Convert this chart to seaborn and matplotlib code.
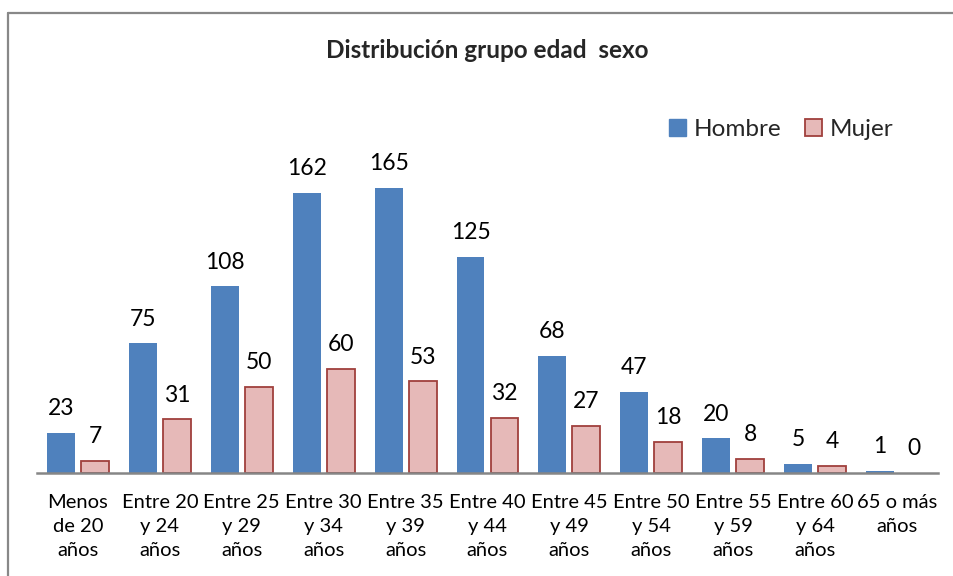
import matplotlib
matplotlib.use("Agg")
import matplotlib.pyplot as plt
import seaborn as sns
import pandas as pd
from matplotlib.lines import Line2D
from matplotlib.patches import Patch

grupos = ["Menos\nde 20\naños", "Entre 20\ny 24\naños", "Entre 25\ny 29\naños",
          "Entre 30\ny 34\naños", "Entre 35\ny 39\naños", "Entre 40\ny 44\naños",
          "Entre 45\ny 49\naños", "Entre 50\ny 54\naños", "Entre 55\ny 59\naños",
          "Entre 60\ny 64\naños", "65 o más\naños"]
hombre = [23, 75, 108, 162, 165, 125, 68, 47, 20, 5, 1]
mujer = [7, 31, 50, 60, 53, 32, 27, 18, 8, 4, 0]
series = ["Hombre", "Mujer"]

df = pd.DataFrame({
    "grupo": grupos * 2,
    "sexo": ["Hombre"] * len(grupos) + ["Mujer"] * len(grupos),
    "valor": hombre + mujer,
})

sns.set_style("white")
plt.rcParams["font.family"] = ["Lato", "DejaVu Sans"]

W, H = 954, 576
fig = plt.figure(figsize=(W / 100, H / 100), dpi=100)
ax = fig.add_axes([37 / W, (H - 473) / H, (938 - 37) / W, (473 - 127.6) / H])

blue = "#4F81BD"
pink = "#E6B9B8"
pink_edge = "#A0403D"

sns.barplot(data=df, x="grupo", y="valor", hue="sexo", order=grupos,
            hue_order=series, palette=[blue, pink], width=0.83, gap=0.18,
            saturation=1, ax=ax, legend=False)

for bar in ax.containers[0]:
    bar.set_edgecolor(blue)
    bar.set_linewidth(0)
for bar, v in zip(ax.containers[1], mujer):
    bar.set_edgecolor(pink_edge)
    bar.set_linewidth(1.3 if v > 0 else 0)

for cont in ax.containers:
    ax.bar_label(cont, padding=10, fontsize=16.5, color="black")

ax.set_xlim(-0.5, len(grupos) - 0.5)
ax.set_ylim(0, 200)
ax.set_xlabel("")
ax.set_ylabel("")
ax.set_yticks([])
for s in ["left", "right", "top"]:
    ax.spines[s].set_visible(False)
ax.spines["bottom"].set_color("#868686")
ax.spines["bottom"].set_linewidth(1.8)
ax.tick_params(axis="x", length=0, pad=15, labelsize=14.5, colors="black")
for t in ax.get_xticklabels():
    t.set_linespacing(1.5)

fig.text(487 / W, 1 - 50 / H, "Distribución grupo edad  sexo", ha="center",
         va="center", fontsize=17.5, fontweight="bold")

handles = [Patch(facecolor=blue, edgecolor=blue),
           Patch(facecolor=pink, edgecolor=pink_edge, linewidth=1.3)]
fig.legend(handles, series, loc="upper right", bbox_to_anchor=(915 / W, 1 - 97 / H),
           ncol=2, frameon=False, fontsize=17.5, handlelength=0.7, handleheight=0.7,
           handletextpad=0.3, columnspacing=1.0)

# chart border (top and left edges only visible)
fig.add_artist(Line2D([8 / W, 1], [1 - 13 / H, 1 - 13 / H], color="#888888", lw=1.6))
fig.add_artist(Line2D([8 / W, 8 / W], [0, 1 - 13 / H], color="#888888", lw=1.6))

fig.savefig("out.png", dpi=100)
